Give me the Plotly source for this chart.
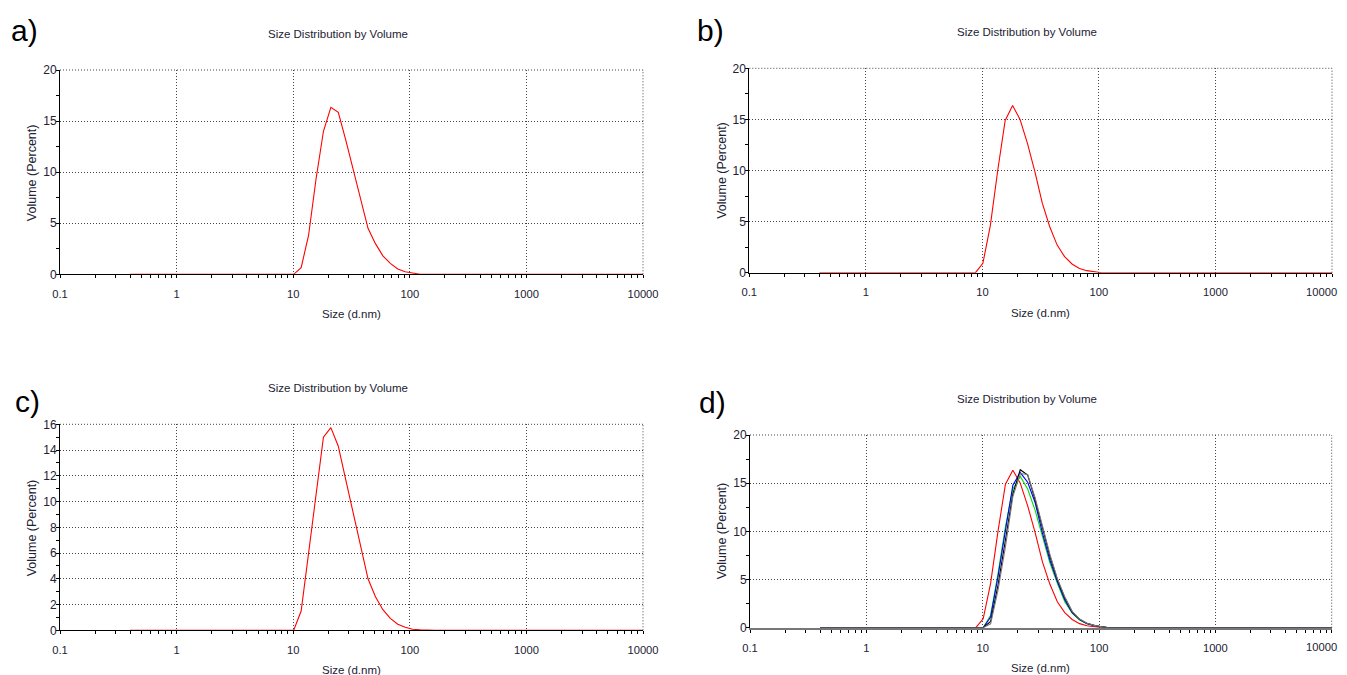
import plotly.graph_objects as go

# Zetasizer size bins (d.nm)
sizes = [0.4, 0.4632, 0.5365, 0.6213, 0.7195, 0.8332, 0.9649, 1.117, 1.294, 1.499,
         1.736, 2.010, 2.328, 2.696, 3.122, 3.615, 4.187, 4.849, 5.615, 6.503,
         7.531, 8.721, 10.10, 11.70, 13.54, 15.69, 18.17, 21.04, 24.36, 28.21,
         32.67, 37.84, 43.82, 50.75, 58.77, 68.06, 78.82, 91.28, 105.7, 122.4,
         141.8, 164.2, 190.1, 220.2, 255.0, 295.3, 342.0, 396.1, 458.7, 531.2,
         615.1, 712.4, 825.0, 955.4, 1106, 1281, 1484, 1718, 1990, 2305,
         2669, 3091, 3580, 4145, 4801, 5560, 6439, 7456, 8635, 10000]

a_vol = [0, 0, 0, 0, 0, 0, 0, 0, 0, 0,
         0, 0, 0, 0, 0, 0, 0, 0, 0, 0,
         0, 0, 0, 0.65, 3.8, 9.3, 14.0, 16.35, 15.85, 13.15,
         10.2, 7.3, 4.5, 3.0, 1.8, 1.07, 0.52, 0.25, 0.1, 0,
         0, 0, 0, 0, 0, 0, 0, 0, 0, 0,
         0, 0, 0, 0, 0, 0, 0, 0, 0, 0,
         0, 0, 0, 0, 0, 0, 0, 0, 0, 0]

b_vol = [0, 0, 0, 0, 0, 0, 0, 0, 0, 0,
         0, 0, 0, 0, 0, 0, 0, 0, 0, 0,
         0, 0, 0.92, 4.6, 10.0, 14.9, 16.35, 15.0, 12.65, 9.9,
         6.8, 4.5, 2.7, 1.57, 0.85, 0.42, 0.2, 0.1, 0, 0,
         0, 0, 0, 0, 0, 0, 0, 0, 0, 0,
         0, 0, 0, 0, 0, 0, 0, 0, 0, 0,
         0, 0, 0, 0, 0, 0, 0, 0, 0, 0]

c_vol = [0, 0, 0, 0, 0, 0, 0, 0, 0, 0,
         0, 0, 0, 0, 0, 0, 0, 0, 0, 0,
         0, 0, 0, 1.5, 6.0, 10.6, 15.0, 15.74, 14.3, 11.7,
         9.1, 6.5, 4.0, 2.6, 1.6, 0.93, 0.47, 0.23, 0.08, 0.03,
         0, 0, 0, 0, 0, 0, 0, 0, 0, 0,
         0, 0, 0, 0, 0, 0, 0, 0, 0, 0,
         0, 0, 0, 0, 0, 0, 0, 0, 0, 0]

d_red = b_vol

d_green = [0, 0, 0, 0, 0, 0, 0, 0, 0, 0,
           0, 0, 0, 0, 0, 0, 0, 0, 0, 0,
           0, 0, 0, 1.3, 5.6, 10.5, 14.4, 15.7, 14.4, 12.2,
           9.4, 6.7, 4.6, 2.7, 1.5, 0.8, 0.4, 0.2, 0.08, 0,
           0, 0, 0, 0, 0, 0, 0, 0, 0, 0,
           0, 0, 0, 0, 0, 0, 0, 0, 0, 0,
           0, 0, 0, 0, 0, 0, 0, 0, 0, 0]

d_blue = [0, 0, 0, 0, 0, 0, 0, 0, 0, 0,
          0, 0, 0, 0, 0, 0, 0, 0, 0, 0,
          0, 0, 0, 1.1, 5.3, 10.1, 14.8, 16.1, 15.1, 13.0,
          9.8, 7.0, 4.8, 2.9, 1.55, 0.85, 0.42, 0.2, 0.08, 0,
          0, 0, 0, 0, 0, 0, 0, 0, 0, 0,
          0, 0, 0, 0, 0, 0, 0, 0, 0, 0,
          0, 0, 0, 0, 0, 0, 0, 0, 0, 0]

d_black = [0, 0, 0, 0, 0, 0, 0, 0, 0, 0,
           0, 0, 0, 0, 0, 0, 0, 0, 0, 0,
           0, 0, 0, 0.65, 4.4, 9.1, 13.9, 16.4, 15.85, 13.3,
           10.2, 7.4, 5.0, 3.1, 1.65, 0.87, 0.45, 0.22, 0.1, 0,
           0, 0, 0, 0, 0, 0, 0, 0, 0, 0,
           0, 0, 0, 0, 0, 0, 0, 0, 0, 0,
           0, 0, 0, 0, 0, 0, 0, 0, 0, 0]

d_gray = [0, 0, 0, 0, 0, 0, 0, 0, 0, 0,
          0, 0, 0, 0, 0, 0, 0, 0, 0, 0,
          0, 0, 0, 0.4, 3.9, 8.4, 13.6, 16.0, 15.9, 13.5,
          10.4, 7.6, 5.1, 3.2, 1.7, 0.9, 0.47, 0.24, 0.1, 0,
          0, 0, 0, 0, 0, 0, 0, 0, 0, 0,
          0, 0, 0, 0, 0, 0, 0, 0, 0, 0,
          0, 0, 0, 0, 0, 0, 0, 0, 0, 0]

x_tickvals = [0.1, 1, 10, 100, 1000, 10000]
x_ticktext = ["0.1", "1", "10", "100", "1000", "10000"]

panel_labels = ["a)", "b)", "c)", "d)"]
chart_title = "Size Distribution by Volume"
x_title = "Size (d.nm)"
y_title = "Volume (Percent)"

W, H = 1347, 675
OFF = 8  # page body margin
FONT = "Liberation Sans, Arial, sans-serif"
TICKC = "#222233"
GRIDC = "#444444"
GRIDDASH = "1px,2px"

# panel pixel boxes (screen coords): left, right, top, bottom
boxes = [(60, 643, 70, 274.3), (749.3, 1332, 68.3, 272.7),
         (60, 643, 424.3, 630.3), (750, 1331.7, 435, 627.7)]
y_max = [20, 20, 16, 20]
y_dtick = [5, 5, 2, 5]
y_minor = [2.5, 2.5, 1, 2.5]
label_pos = [(9, 31), (695, 30), (13, 401), (697, 402)]
right_panel = [False, True, False, True]

fig = go.Figure()

series = [
    [(a_vol, "#ff0000")],
    [(b_vol, "#ff0000")],
    [(c_vol, "#ff0000")],
    [(d_red, "#ff0000"), (d_green, "#00e000"), (d_blue, "#0000ff"),
     (d_black, "#000000"), (d_gray, "#777777")],
]

annotations = []
shapes = []
for i in range(4):
    xa = "x" if i == 0 else f"x{i+1}"
    ya = "y" if i == 0 else f"y{i+1}"
    l, r, t, b = [v - OFF for v in boxes[i]]
    for vals, col in series[i]:
        fig.add_trace(go.Scatter(x=sizes, y=vals, mode="lines",
                                 line=dict(color=col, width=1.1),
                                 xaxis=xa, yaxis=ya, showlegend=False,
                                 hoverinfo="skip"))
    axis_col = "#000000" if i < 3 else "#777777"
    axis_w = 1 if i < 3 else 2
    # on the right-hand panels the last label sits at the window edge: draw it as an annotation
    ttext = list(x_ticktext)
    if right_panel[i]:
        ttext[-1] = ""
        annotations.append(dict(text=x_ticktext[-1], xref=xa, yref=f"{ya} domain",
                                x=4, y=0, yshift=-19, xshift=7, xanchor="right", yanchor="middle",
                                showarrow=False, font=dict(family=FONT, size=11.2, color=TICKC)))
    fig.layout[f"xaxis{'' if i == 0 else i+1}"] = dict(
        type="log", range=[-1, 4], domain=[l / W, r / W], anchor=ya,
        automargin=False,
        tickvals=x_tickvals, ticktext=ttext,
        showline=True, linecolor=axis_col, linewidth=axis_w,
        ticks="outside", ticklen=3, tickcolor="#000", tickwidth=1,
        ticklabelstandoff=6,
        minor=dict(ticks="outside", ticklen=3, tickcolor="#000",
                   tickvals=[v * m for v in [0.1, 1, 10, 100, 1000] for m in range(2, 10)],
                   showgrid=False),
        showgrid=True, gridcolor=GRIDC, gridwidth=1, griddash=GRIDDASH,
        zeroline=False, tickfont=dict(family=FONT, size=11.2, color=TICKC),
    )
    fig.layout[f"yaxis{'' if i == 0 else i+1}"] = dict(
        range=[0, y_max[i]], domain=[1 - b / H, 1 - t / H], anchor=xa,
        automargin=False,
        dtick=y_dtick[i], tick0=0,
        showline=True, linecolor="#000", linewidth=1,
        ticks="outside", ticklen=3, tickcolor="#000",
        ticklabelstandoff=-3,
        minor=dict(dtick=y_minor[i], ticks="outside", ticklen=3, tickcolor="#000", showgrid=False),
        showgrid=True, gridcolor=GRIDC, gridwidth=1, griddash=GRIDDASH,
        zeroline=False, tickfont=dict(family=FONT, size=12, color=TICKC),
    )
    # dotted frame at top and right edges (grid lines at top value / 10000)
    shapes.append(dict(type="line", xref=f"{xa} domain", yref=f"{ya} domain",
                       x0=0, x1=1, y0=1, y1=1,
                       line=dict(color=GRIDC, width=1, dash=GRIDDASH)))
    shapes.append(dict(type="line", xref=f"{xa} domain", yref=f"{ya} domain",
                       x0=1, x1=1, y0=0, y1=1,
                       line=dict(color=GRIDC, width=1, dash=GRIDDASH)))
    # panel title
    annotations.append(dict(text=chart_title, xref=f"{xa} domain", yref=f"{ya} domain",
                            x=0.477, y=1, yshift=36, xanchor="center", yanchor="middle",
                            showarrow=False, font=dict(family=FONT, size=11.5, color=TICKC)))
    # axis titles
    annotations.append(dict(text=x_title, xref=f"{xa} domain", yref=f"{ya} domain",
                            x=0.5, y=0, yshift=-40, xanchor="center", yanchor="middle",
                            showarrow=False, font=dict(family=FONT, size=11.5, color=TICKC)))
    annotations.append(dict(text=y_title, xref=f"{xa} domain", yref=f"{ya} domain",
                            x=0, y=0.5, xshift=-28, xanchor="center", yanchor="middle",
                            textangle=-90, showarrow=False,
                            font=dict(family=FONT, size=12.5, color=TICKC)))
    # panel label
    lx, ly = label_pos[i]
    annotations.append(dict(text=panel_labels[i], xref="paper", yref="paper",
                            x=(lx - OFF) / W, y=1 - (ly - OFF) / H, xanchor="left", yanchor="middle",
                            showarrow=False, font=dict(family="Liberation Sans, Arial", size=30, color="#000")))

fig.update_layout(width=W, height=H, margin=dict(l=0, r=0, t=0, b=0, autoexpand=False),
                  paper_bgcolor="white", plot_bgcolor="white",
                  annotations=annotations, shapes=shapes, showlegend=False)

fig.write_html("out.html")
